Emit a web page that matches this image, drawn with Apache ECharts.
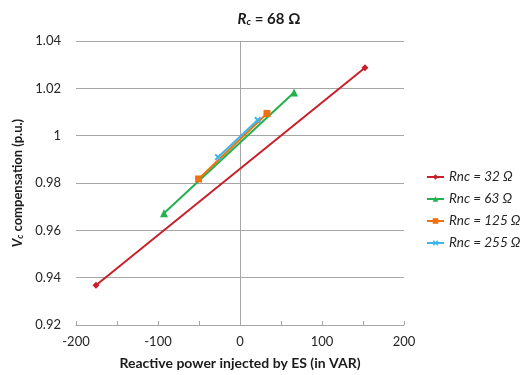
<!DOCTYPE html>
<html>
<head>
<meta charset="utf-8">
<script src="https://cdn.jsdelivr.net/npm/echarts@6/dist/echarts.min.js"></script>
<style>
  html, body { margin: 0; padding: 0; background: #fff; }
  #chart { width: 523px; height: 375px; }
</style>
</head>
<body>
<div id="chart"></div>
<script>
// Series names and values (two end points each)
const seriesNames = ["Rnc = 32 Ω", "Rnc = 63 Ω", "Rnc = 125 Ω", "Rnc = 255 Ω"];
const qRnc32 = [-175.6, 152.4];
const vRnc32 = [0.9368, 1.0287];
const qRnc63 = [-92.7, 65.9];
const vRnc63 = [0.9672, 1.0182];
const qRnc125 = [-50.5, 32.9];
const vRnc125 = [0.9817, 1.0094];
const qRnc255 = [-26.8, 21.6];
const vRnc255 = [0.9909, 1.0066];

const colors = ["#C8202A", "#22B14C", "#EE7011", "#3DB5E6"];
const symbols = ["diamond", "triangle", "rect",
  "path://M2,0L5,3L8,0L10,2L7,5L10,8L8,10L5,7L2,10L0,8L3,5L0,2Z"];
const symbolSizes = [7, 8, 7, 7];

const pairs = (xs, ys) => xs.map((x, i) => [x, ys[i]]);
const seriesData = [
  pairs(qRnc32, vRnc32),
  pairs(qRnc63, vRnc63),
  pairs(qRnc125, vRnc125),
  pairs(qRnc255, vRnc255),
];

const font = "Lato, 'Open Sans', sans-serif";
const chart = echarts.init(document.getElementById("chart"));

const series = seriesNames.map((name, i) => ({
  name,
  type: "line",
  data: seriesData[i],
  color: colors[i],
  symbol: symbols[i],
  symbolSize: symbolSizes[i],
  showAllSymbol: true,
  lineStyle: { width: 2 },
  animation: false,
  z: 3 + i,
}));

// vertical line at x = 0 (value axis crossing)
series[0].markLine = {
  silent: true,
  symbol: ["none", "none"],
  label: { show: false },
  lineStyle: { color: "#A6A6A6", width: 1, type: "solid" },
  data: [{ xAxis: 0 }],
  z: 1,
};

chart.setOption({
  animation: false,
  title: {
    text: "{it|R}{sub|c}{b| = 68 Ω}",
    left: 264,
    textAlign: "center",
    top: 6,
    textStyle: {
      rich: {
        it: { fontFamily: font, fontSize: 15, fontWeight: "bold", fontStyle: "italic", color: "#1a1a1a" },
        sub: { fontFamily: font, fontSize: 10, fontWeight: "bold", fontStyle: "italic", color: "#1a1a1a", padding: [6, 0, 0, 0] },
        b: { fontFamily: font, fontSize: 15, fontWeight: "bold", color: "#1a1a1a" },
      },
    },
  },
  grid: { left: 76, right: 119, top: 41, bottom: 48 },
  legend: {
    orient: "vertical",
    left: 421,
    top: 165,
    itemWidth: 17,
    itemHeight: 7,
    itemGap: 8,
    textStyle: { fontFamily: font, fontSize: 13.5, fontStyle: "italic", color: "#262626" },
    data: seriesNames,
  },
  xAxis: {
    type: "value",
    min: -200,
    max: 200,
    interval: 50,
    name: "Reactive power injected by ES (in VAR)",
    nameLocation: "middle",
    nameGap: 31,
    nameTextStyle: { fontFamily: font, fontSize: 14, fontWeight: "bold", color: "#1a1a1a" },
    axisLine: { onZero: false, lineStyle: { color: "#A6A6A6", width: 1 } },
    axisTick: { show: true, inside: true, length: 4, lineStyle: { color: "#A6A6A6" } },
    axisLabel: {
      fontFamily: font, fontSize: 13, color: "#262626", margin: 10,
      formatter: (v) => (v % 100 === 0 ? String(v) : ""),
    },
    splitLine: { show: false },
  },
  yAxis: {
    type: "value",
    min: 0.92,
    max: 1.04,
    interval: 0.02,
    name: "{it|V}{sub|c}{b| compensation (p.u.)}",
    nameLocation: "middle",
    nameGap: 45,
    nameTextStyle: {
      rich: {
        it: { fontFamily: font, fontSize: 13, fontWeight: "bold", fontStyle: "italic", color: "#1a1a1a" },
        sub: { fontFamily: font, fontSize: 9, fontWeight: "bold", fontStyle: "italic", color: "#1a1a1a", padding: [5, 0, 0, 0] },
        b: { fontFamily: font, fontSize: 13, fontWeight: "bold", color: "#1a1a1a" },
      },
    },
    axisLine: { show: false },
    axisTick: { show: false },
    axisLabel: {
      fontFamily: font, fontSize: 13, color: "#262626", margin: 15,
      formatter: (v) => String(Math.round(v * 100) / 100),
    },
    splitLine: { lineStyle: { color: "#A6A6A6", width: 1 } },
  },
  series,
});
</script>
</body>
</html>
